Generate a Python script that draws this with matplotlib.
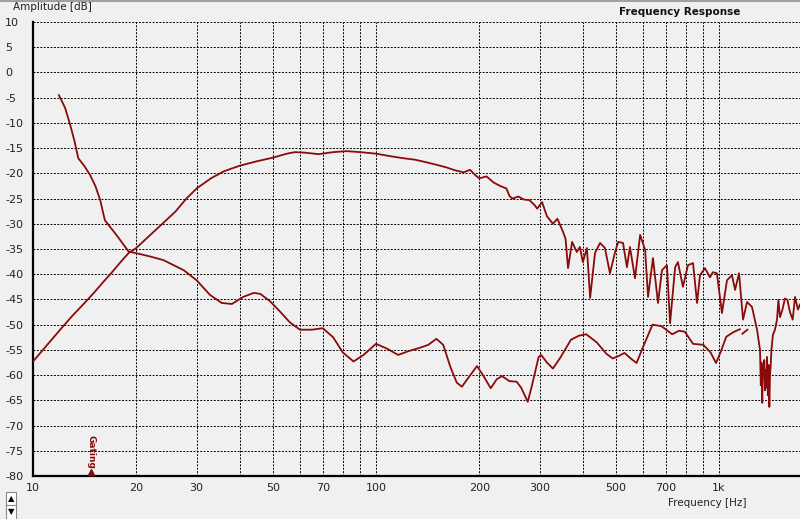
import numpy as np
import matplotlib.pyplot as plt
from matplotlib.lines import Line2D

# --------------------------------------------------
# Data (frequency in Hz, amplitude in dB)
# --------------------------------------------------
freq_a = [10, 11, 12, 13, 14, 15, 16, 17, 18, 19, 20, 22, 24, 26, 28, 30, 33, 36, 40, 45,
          50, 55, 58, 62, 68, 75, 82, 90, 100, 110, 120, 130, 140, 150, 160, 170, 180, 188,
          195, 200, 210, 220, 230, 240, 245, 250, 260, 270, 280, 290, 295, 305, 315, 328,
          338, 351, 357, 363, 373, 385, 393, 401, 412, 421, 435, 450, 465, 481, 497, 508,
          525, 539, 550, 569, 589, 609, 621, 642, 664, 682, 705, 720, 745, 759, 785, 812,
          840, 863, 880, 910, 941, 960, 986, 1020, 1055, 1091, 1114, 1144, 1175, 1207, 1248,
          1291, 1317, 1324, 1330, 1337, 1344, 1350, 1355, 1362, 1368, 1374, 1380, 1388, 1395,
          1402, 1408, 1415, 1422, 1436, 1456, 1476, 1490, 1506, 1530, 1557, 1583, 1610, 1640,
          1666, 1699, 1722]
amp_a = [-57.3, -54.0, -51.0, -48.3, -46.0, -43.8, -41.6, -39.6, -37.6, -35.8, -34.8, -32.2,
         -29.8, -27.6, -25.0, -23.0, -21.0, -19.6, -18.5, -17.6, -16.9, -16.1, -15.8, -15.9,
         -16.2, -15.8, -15.6, -15.8, -16.1, -16.6, -17.0, -17.3, -17.8, -18.3, -18.8, -19.4,
         -19.8, -19.3, -20.4, -21.0, -20.6, -21.8, -22.5, -23.0, -24.5, -25.0, -24.6, -25.2,
         -25.3, -26.3, -27.0, -25.7, -28.5, -30.0, -29.0, -31.6, -33.0, -38.8, -33.6, -35.6,
         -34.6, -37.6, -34.8, -44.7, -35.8, -33.8, -34.8, -39.8, -35.8, -33.6, -33.8, -38.6,
         -34.6, -40.8, -32.2, -35.2, -44.5, -36.8, -45.7, -39.2, -38.2, -49.7, -38.6, -37.6,
         -42.5, -38.2, -37.8, -45.7, -40.2, -38.8, -40.6, -39.6, -39.8, -47.7, -41.2, -40.2,
         -43.1, -39.8, -49.0, -45.5, -46.5, -51.0, -55.0, -62.0, -57.5, -65.5, -58.0, -60.0,
         -57.0, -63.0, -59.0, -62.5, -56.4, -64.0, -58.0, -66.3, -60.0, -58.0, -55.0, -52.0,
         -51.0, -49.0, -45.1, -48.5, -47.1, -44.8, -45.1, -47.5, -49.0, -44.5, -47.0, -46.0]

freq_b = [11.9, 12.4, 12.8, 13.2, 13.55, 14.1, 14.66, 15.2, 15.7, 16.2, 17.5, 19.0, 20.5,
          22, 24, 27.5, 30, 32.8, 35.5, 38, 41, 44, 46, 49, 52.5, 56, 60, 65, 70, 75, 80, 86,
          92, 100, 108, 116, 125, 134, 142, 150, 157, 165, 172, 178, 186, 197, 205, 216, 225,
          233, 245, 257, 265, 277, 285, 298, 303, 315, 328, 345, 370, 390, 410, 440, 470, 490,
          510, 530, 555, 575, 600, 640, 680, 730, 765, 795, 840, 900, 945, 980, 1010, 1050,
          1100, 1150, np.nan, 1170, 1210]
amp_b = [-4.5, -7.0, -10.1, -13.5, -17.0, -18.5, -20.3, -22.5, -25.3, -29.3, -32.2, -35.5,
         -36.0, -36.5, -37.2, -39.2, -41.2, -44.1, -45.7, -45.9, -44.5, -43.7, -43.9, -45.3,
         -47.4, -49.5, -51.0, -51.0, -50.7, -52.5, -55.5, -57.3, -56.0, -53.8, -54.8, -56.0,
         -55.2, -54.6, -54.0, -52.8, -54.0, -58.5, -61.5, -62.3, -60.5, -58.2, -60.0, -62.6,
         -60.8, -60.2, -61.2, -61.3, -62.5, -65.3, -62.0, -56.4, -56.0, -57.5, -58.7, -56.5,
         -53.0, -52.2, -51.9, -53.5, -55.8, -56.7, -56.2, -55.6, -56.8, -57.6, -54.5, -50.0,
         -50.3, -51.9, -51.2, -51.4, -53.8, -54.0, -55.5, -57.6, -55.5, -52.4, -51.5, -50.9,
         np.nan, -51.8, -51.0]

xtick_vals = [10, 20, 30, 50, 70, 100, 200, 300, 500, 700, 1000]
xtick_text = ['10', '20', '30', '50', '70', '100', '200', '300', '500', '700', '1k']
ytick_vals = list(range(10, -85, -5))
gate_freq = 14.76

# --------------------------------------------------
# Figure
# --------------------------------------------------
bg = '#f0f0f0'
red = '#8b0a0a'
fig = plt.figure(figsize=(8, 5.19), dpi=100, facecolor=bg)
ax = fig.add_axes([33 / 800, 1 - 476 / 519, 1 - 33 / 800, (476 - 22) / 519])
ax.set_facecolor(bg)
ax.set_xscale('log')
ax.set_xlim(10, 10 ** (3 + 81 / 343))
ax.set_ylim(-80, 10)

# grid: every decade step and every 5 dB
grid_x = [f * d for d in (10, 100) for f in range(1, 10)] + [1000]
for gx in grid_x:
    if gx > 10:
        ax.axvline(gx, color='black', lw=0.7, ls=(0, (2, 1.5)), zorder=1)
for gy in ytick_vals:
    if gy > -80:
        ax.axhline(gy, color='black', lw=0.7, ls=(0, (2, 1.5)), zorder=1)

ax.plot(freq_a, amp_a, color=red, lw=1.3, zorder=3)
ax.plot(freq_b, amp_b, color=red, lw=1.3, zorder=3)

# gating marker
ax.plot([gate_freq], [-79.2], marker='^', color=red, ms=5, clip_on=False, zorder=4)
ax.text(gate_freq, -75.2, 'Gating', rotation=270, color=red, fontsize=6.5,
        fontweight='bold', ha='center', va='center', zorder=4)

ax.set_xticks(xtick_vals)
ax.set_xticklabels(xtick_text)
ax.xaxis.set_minor_locator(plt.NullLocator())
ax.set_yticks(ytick_vals)
ax.set_yticklabels([str(v) for v in ytick_vals])
ax.tick_params(axis='x', length=0, pad=5, labelsize=8, colors='#222222')
ax.tick_params(axis='y', length=0, pad=20, labelsize=8, colors='#222222')
for lbl in ax.get_yticklabels():
    lbl.set_horizontalalignment('left')

for side in ('top', 'right'):
    ax.spines[side].set_visible(False)
for side in ('left', 'bottom'):
    ax.spines[side].set_linewidth(1.6)
    ax.spines[side].set_color('black')

fig.text(13 / 800, 1 - 7 / 519, 'Amplitude [dB]', fontsize=7.5, ha='left', va='center',
         color='#222222')
fig.text(707 / 800, 1 - 503 / 519, 'Frequency [Hz]', fontsize=7.5, ha='center',
         va='center', color='#222222')
fig.text(680 / 800, 1 - 12 / 519, 'Frequency Response', fontsize=7.5, ha='center',
         va='center', fontweight='bold', color='#111111')

# window chrome: top border and the little scroll buttons
fig.add_artist(Line2D([0, 1], [1 - 1 / 519, 1 - 1 / 519], color='#a0a0a0', lw=1.5))
for yb, glyph in ((499, '\u25b2'), (512, '\u25bc')):
    fig.text(11 / 800, 1 - yb / 519, glyph, fontsize=6, ha='center', va='center',
             color='black', bbox=dict(boxstyle='square,pad=0.25', fc='white', ec='#888888',
                                      lw=0.8))

plt.savefig('out.png', dpi=100, facecolor=bg)
plt.close()
